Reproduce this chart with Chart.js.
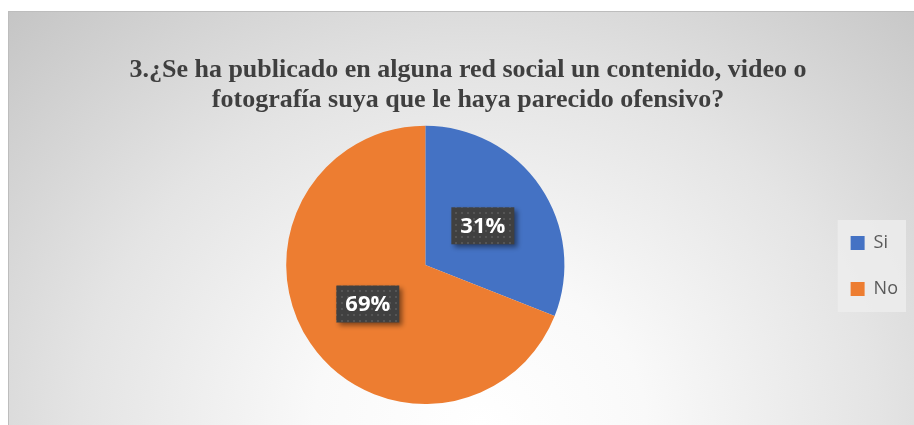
<!DOCTYPE html>
<html>
<head>
<meta charset="utf-8">
<script src="https://cdn.jsdelivr.net/npm/chart.js@4.4.1/dist/chart.umd.min.js"></script>
<style>
  html, body { margin: 0; padding: 0; width: 914px; height: 425px; overflow: hidden; background: #fff; }
  #frame {
    position: absolute; left: 8px; top: 11px; width: 905px; height: 413px;
    border-top: 1px solid #bdbdbd; border-left: 1px solid #bdbdbd;
    background: radial-gradient(ellipse farthest-corner at 52% 100%, #ffffff 0%, #f9f9f9 25%, #e4e4e4 60%, #c5c5c5 100%);
  }
</style>
</head>
<body>
<div id="frame"><canvas id="chart"></canvas></div>
<script>
// Chart data
const titleLines = [
  "3.¿Se ha publicado en alguna red social un contenido, video o",
  "fotografía suya que le haya parecido ofensivo?"
]
const categories = ["Si", "No"]
const percentages = [31, 69]
const sliceColors = ["#4472C4", "#ED7D31"]

// dark dotted box behind the percentages
function dotPattern(ctx) {
  const c = document.createElement("canvas")
  c.width = 6; c.height = 6
  const g = c.getContext("2d")
  g.fillStyle = "#404040"
  g.fillRect(0, 0, 6, 6)
  g.fillStyle = "#555555"
  g.fillRect(2, 2, 2, 2)
  return ctx.createPattern(c, "repeat")
}

const sliceLabels = {
  id: "sliceLabels",
  afterDatasetsDraw(chart) {
    const ctx = chart.ctx
    const pattern = dotPattern(ctx)
    chart.getDatasetMeta(0).data.forEach((arc, i) => {
      const { x, y } = arc.tooltipPosition()
      const text = percentages[i] + "%"
      ctx.save()
      ctx.font = "bold 22px 'Open Sans'"
      const w = ctx.measureText(text).width + 18
      const h = 37
      ctx.shadowColor = "rgba(0,0,0,0.45)"
      ctx.shadowBlur = 5
      ctx.shadowOffsetX = 3
      ctx.shadowOffsetY = 3
      ctx.fillStyle = pattern
      ctx.fillRect(x - w / 2, y - h / 2, w, h)
      ctx.restore()
      ctx.save()
      ctx.font = "bold 22px 'Open Sans'"
      ctx.fillStyle = "#ffffff"
      ctx.textAlign = "center"
      ctx.textBaseline = "middle"
      ctx.fillText(text, x, y + 1)
      ctx.restore()
    })
  }
}

// move the legend down beside the pie and put a light panel behind it
const legendPanel = {
  id: "legendPanel",
  afterLayout(chart) {
    const lg = chart.legend
    if (!lg || !lg.columnSizes || !lg.columnSizes.length) return
    const pad = lg.options.labels.padding
    const start = (lg.top + pad + lg.bottom - lg.columnSizes[0].height) / 2
    const d = 222 - start
    lg.top += d
    lg.bottom += d
  },
  beforeDraw(chart) {
    const lg = chart.legend
    if (!lg || !lg.legendHitBoxes || !lg.legendHitBoxes.length) return
    const boxes = lg.legendHitBoxes
    const left = Math.min(...boxes.map(b => b.left)) - 13
    const right = Math.max(...boxes.map(b => b.left + b.width)) + 8
    const top = Math.min(...boxes.map(b => b.top)) - 14
    const bottom = Math.max(...boxes.map(b => b.top + b.height)) + 14
    const ctx = chart.ctx
    ctx.save()
    ctx.fillStyle = "rgba(238,238,238,0.8)"
    ctx.fillRect(left, top, right - left, bottom - top)
    ctx.restore()
  }
}

new Chart(document.getElementById("chart"), {
  type: "pie",
  data: {
    labels: categories,
    datasets: [{
      data: percentages,
      backgroundColor: sliceColors,
      borderWidth: 0
    }]
  },
  options: {
    responsive: true,
    maintainAspectRatio: false,
    animation: false,
    layout: { padding: { left: 19, right: 6, top: 0, bottom: 21 } },
    plugins: {
      tooltip: { enabled: false },
      title: {
        display: true,
        text: titleLines,
        color: "#3f3f3f",
        font: { family: "'Liberation Serif'", size: 26, weight: "bold", lineHeight: 1.15 },
        padding: { top: 43, bottom: 11 }
      },
      legend: {
        position: "right",
        labels: {
          boxWidth: 14,
          boxHeight: 14,
          padding: 28,
          color: "#595959",
          font: { family: "'Open Sans'", size: 18 }
        }
      }
    }
  },
  plugins: [legendPanel, sliceLabels]
})
</script>
</body>
</html>
